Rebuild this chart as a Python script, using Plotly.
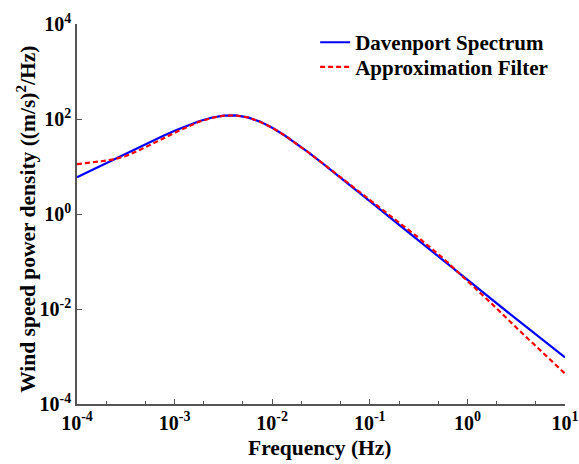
import plotly.graph_objects as go

# Frequency grid (Hz)
freq = [1e-4, 1.334e-4, 1.778e-4, 2.371e-4, 3.162e-4, 4.217e-4, 5.623e-4, 7.499e-4,
        1e-3, 1.334e-3, 1.778e-3, 2.371e-3, 3.162e-3, 4.217e-3, 5.623e-3, 7.499e-3,
        0.01, 0.01334, 0.01778, 0.02371, 0.03162, 0.04217, 0.05623,
        0.1, 0.1778, 0.3162, 0.5623, 1.0, 1.778, 3.162, 5.623, 10.0]

# Davenport wind speed spectrum ((m/s)^2/Hz)
davenport = [5.97, 7.96, 10.6, 14.1, 18.8, 24.9, 33.0, 43.4,
             56.5, 72.3, 89.7, 106.4, 117.8, 118.9, 107.9, 88.0,
             65.5, 45.5, 30.2, 19.5, 12.36, 7.75, 4.83,
             1.865, 0.716, 0.2745, 0.1052, 0.0403, 0.01585, 0.00617, 0.00243, 0.000955]

# Shaping-filter approximation of the spectrum
approx = [11.2, 11.9, 12.9, 14.1, 16.6, 21.4, 28.2, 38.0,
          51.3, 67.6, 87.1, 104.7, 117.0, 118.9, 107.9, 87.9,
          65.5, 45.5, 30.2, 19.5, 12.4, 7.80, 4.90,
          1.95, 0.785, 0.316, 0.1175, 0.0398, 0.0129, 0.00407, 0.00132, 0.000437]

x_tickvals = [1e-4, 1e-3, 1e-2, 1e-1, 1e0, 1e1]
x_ticktext = ["10<sup>-4</sup>", "10<sup>-3</sup>", "10<sup>-2</sup>",
              "10<sup>-1</sup>", "10<sup>0</sup>", "10<sup>1</sup>"]
y_tickvals = [1e-4, 1e-2, 1e0, 1e2, 1e4]
y_ticktext = ["10<sup>-4</sup>", "10<sup>-2</sup>", "10<sup>0</sup>",
              "10<sup>2</sup>", "10<sup>4</sup>"]

x_title = "Frequency (Hz)"
y_title = "Wind speed power density ((m/s)<sup>2</sup>/Hz)"

FONT = "Liberation Serif, Times New Roman, serif"
AXIS_COLOR = "#555555"
LEGEND_FONT = dict(family=FONT, size=21, color="black", weight="bold")
TITLE_FONT = dict(family=FONT, size=21.5, color="black", weight="bold")

fig = go.Figure()
fig.add_trace(go.Scatter(x=freq, y=davenport, mode="lines",
                         name="Davenport Spectrum", legend="legend",
                         line=dict(color="#0000ff", width=2.2)))
fig.add_trace(go.Scatter(x=freq, y=approx, mode="lines",
                         name="Approximation Filter", legend="legend2",
                         line=dict(color="#ff0000", width=2.2, dash="5px,3px")))

fig.update_layout(
    template="none",
    width=579, height=464,
    margin=dict(l=77, r=14, t=24, b=60, autoexpand=False),
    paper_bgcolor="white", plot_bgcolor="white",
    font=dict(family=FONT, color="black", size=20, weight="bold"),
    showlegend=True,
    legend=dict(x=0.488, y=1.005, xanchor="left", yanchor="top",
                bgcolor="rgba(0,0,0,0)", borderwidth=0, font=LEGEND_FONT),
    legend2=dict(x=0.488, y=0.94, xanchor="left", yanchor="top",
                 bgcolor="rgba(0,0,0,0)", borderwidth=0, font=LEGEND_FONT),
)

# Axis titles placed as paper-anchored text
fig.add_annotation(text=x_title, xref="paper", yref="paper",
                   x=0.498, y=-0.116, xanchor="center", yanchor="middle",
                   showarrow=False, font=TITLE_FONT)
fig.add_annotation(text=y_title, xref="paper", yref="paper",
                   x=-0.1035, y=0.486, xanchor="center", yanchor="middle",
                   textangle=-90, showarrow=False, font=TITLE_FONT)

fig.update_xaxes(
    type="log", range=[-4, 1], automargin=False,
    tickmode="array", tickvals=x_tickvals, ticktext=x_ticktext,
    ticks="inside", ticklen=5, tickwidth=1, tickcolor=AXIS_COLOR,
    minor=dict(ticks="inside", ticklen=3, tickwidth=1, tickcolor=AXIS_COLOR,
               showgrid=False),
    showline=True, linecolor=AXIS_COLOR, linewidth=1.5,
    showgrid=False, zeroline=False, mirror=False,
    tickfont=dict(family=FONT, size=20, color="black", weight="bold"),
)

fig.update_yaxes(
    type="log", range=[-4, 4], automargin=False,
    tickmode="array", tickvals=y_tickvals, ticktext=y_ticktext,
    ticks="inside", ticklen=5, tickwidth=1, tickcolor=AXIS_COLOR,
    showline=True, linecolor=AXIS_COLOR, linewidth=1.5,
    showgrid=False, zeroline=False, mirror=False,
    tickfont=dict(family=FONT, size=20, color="black", weight="bold"),
)

fig.write_html("out.html")
